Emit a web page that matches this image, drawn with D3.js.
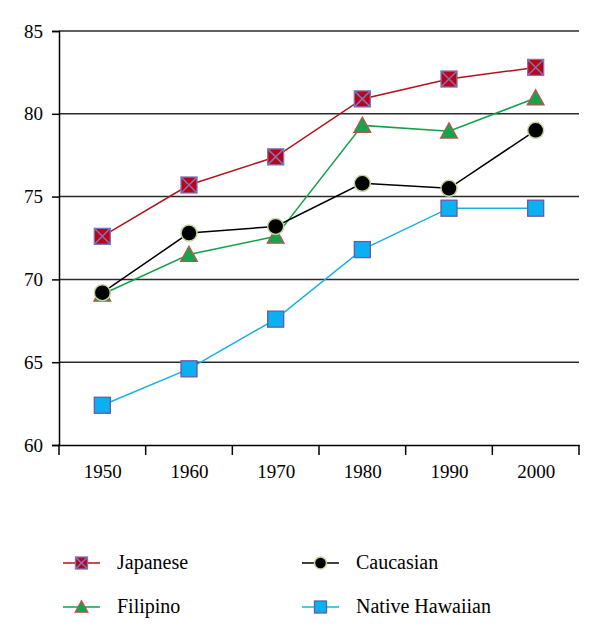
<!DOCTYPE html>
<html><head><meta charset="utf-8">
<script src="https://cdn.jsdelivr.net/npm/d3@7/dist/d3.min.js"></script>
<style>body{margin:0;background:#fff}svg{display:block}</style>
</head><body>
<script>
const years = ["1950","1960","1970","1980","1990","2000"];
const japanese = [72.6, 75.7, 77.4, 80.9, 82.1, 82.8];
const filipino = [69.1, 71.5, 72.6, 79.3, 78.95, 80.95];
const caucasian = [69.2, 72.8, 73.2, 75.8, 75.5, 79.0];
const hawaiian = [62.4, 64.6, 67.6, 71.8, 74.3, 74.3];
const yTicks = [60, 65, 70, 75, 80, 85];

const series = [
  {name:"Japanese", values:japanese, line:"#b4121b", marker:"xsquare", fill:"#c00018", stroke:"#7a78b8"},
  {name:"Filipino", values:filipino, line:"#13a04a", marker:"triangle", fill:"#0fa64c", stroke:"#c0504d"},
  {name:"Caucasian", values:caucasian, line:"#000000", marker:"circle", fill:"#000000", stroke:"#c3d69b"},
  {name:"Native Hawaiian", values:hawaiian, line:"#1ab0e6", marker:"square", fill:"#0bb0f0", stroke:"#6a5aa8"}
];

const W = 600, H = 639;
const pL = 59, pR = 579, pT = 31, pB = 445;
const FONT = '"Liberation Serif"';
const svg = d3.select("body").append("svg").attr("width", W).attr("height", H);

const xBand = d3.scaleBand().domain(years).range([pL, pR]);
const x = d3.scalePoint().domain(years).range([pL, pR]).padding(0.5);
const y = d3.scaleLinear().domain([60, 85]).range([pB, pT]);

// gridlines
svg.append("g").selectAll("line").data(yTicks.filter(t => t > 60)).join("line")
  .attr("x1", pL).attr("x2", pR)
  .attr("y1", d => y(d)).attr("y2", d => y(d))
  .attr("stroke", "#2b2b2b").attr("stroke-width", 1.5);

// y axis
const yAxis = svg.append("g").attr("transform", `translate(${pL},0)`)
  .call(d3.axisLeft(y).tickValues(yTicks).tickSize(7).tickPadding(9));
yAxis.attr("font-family", null);
yAxis.select(".domain").attr("stroke", "#000").attr("stroke-width", 1.5);
yAxis.selectAll(".tick line").attr("stroke", "#000").attr("stroke-width", 1.5);
yAxis.selectAll("text").style("font-family", FONT).style("font-size", "19px").attr("fill", "#000");

// x axis
const xAxis = svg.append("g").attr("transform", `translate(0,${pB})`)
  .call(d3.axisBottom(x).tickSize(0).tickPadding(20));
xAxis.attr("font-family", null);
xAxis.select(".domain").attr("stroke", "#000").attr("stroke-width", 1.5);
xAxis.selectAll("text").style("font-family", FONT).style("font-size", "19px").attr("fill", "#000");
const bounds = years.map(d => xBand(d)).concat([pR]);
xAxis.selectAll(".btick").data(bounds).join("line").attr("class","btick")
  .attr("x1", d => d).attr("x2", d => d).attr("y1", 0).attr("y2", 10)
  .attr("stroke", "#000").attr("stroke-width", 1.5);

function drawMarker(g, s, cx, cy, size) {
  const h = size / 2;
  if (s.marker === "xsquare") {
    g.append("rect").attr("x", cx-h).attr("y", cy-h).attr("width", size).attr("height", size)
      .attr("fill", s.fill).attr("stroke", s.stroke).attr("stroke-width", 1.3);
    g.append("path").attr("d", `M${cx-h},${cy-h}L${cx+h},${cy+h}M${cx+h},${cy-h}L${cx-h},${cy+h}`)
      .attr("stroke", s.stroke).attr("stroke-width", 1.5);
  } else if (s.marker === "square") {
    g.append("rect").attr("x", cx-h).attr("y", cy-h).attr("width", size).attr("height", size)
      .attr("fill", s.fill).attr("stroke", s.stroke).attr("stroke-width", 1.3);
  } else if (s.marker === "circle") {
    g.append("circle").attr("cx", cx).attr("cy", cy).attr("r", h)
      .attr("fill", s.fill).attr("stroke", s.stroke).attr("stroke-width", 1.5);
  } else if (s.marker === "triangle") {
    const th = size * 0.95;
    g.append("path").attr("d", `M${cx},${cy-th*0.55}L${cx+h*1.05},${cy+th*0.45}L${cx-h*1.05},${cy+th*0.45}Z`)
      .attr("fill", s.fill).attr("stroke", s.stroke).attr("stroke-width", 1.3);
  }
}

const line = d3.line().x((d, i) => x(years[i])).y(d => y(d));
series.forEach(s => {
  svg.append("path").datum(s.values).attr("d", line)
    .attr("fill", "none").attr("stroke", s.line).attr("stroke-width", 1.5);
});
series.forEach(s => {
  const g = svg.append("g");
  s.values.forEach((v, i) => drawMarker(g, s, x(years[i]), y(v), 16));
});

// legend
const legPos = [[63, 563], [63, 607], [302, 563], [302, 607]];
const legOrder = ["Japanese", "Filipino", "Caucasian", "Native Hawaiian"];
legOrder.forEach((name, k) => {
  const s = series.find(d => d.name === name);
  const [lx, ly] = legPos[k];
  const g = svg.append("g");
  g.append("line").attr("x1", lx).attr("x2", lx + 37).attr("y1", ly).attr("y2", ly)
    .attr("stroke", s.line).attr("stroke-width", 1.5);
  drawMarker(g, s, lx + 18.5, ly, 12);
  g.append("text").attr("x", lx + 54).attr("y", ly + 6)
    .style("font-family", FONT).style("font-size", "20px").attr("fill", "#000").text(s.name);
});
</script>
</body></html>
